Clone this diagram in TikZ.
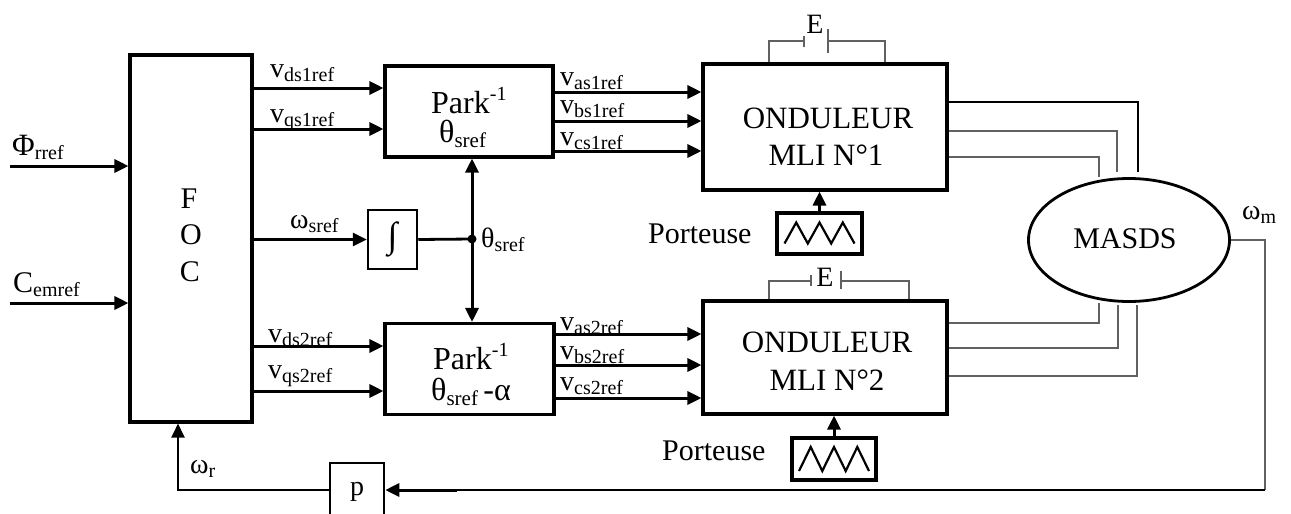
\documentclass[tikz,border=0pt]{standalone}
\usepackage{fontspec}
\setmainfont{Liberation Serif}
\usetikzlibrary{arrows.meta,shapes.geometric}
\newcommand\lsub[2]{#1\raisebox{-4pt}{\fontsize{20}{20}\selectfont #2}}
\newcommand\lsubb[2]{#1\raisebox{-5pt}{\fontsize{21}{21}\selectfont #2}}
\begin{document}
\begin{tikzpicture}[x=1pt,y=-1pt,
  box/.style={draw,line width=3.1pt,inner sep=0},
  arr/.style={line width=3pt,-{Triangle[length=14pt,width=13pt]}},
  darr/.style={line width=3pt,{Triangle[length=14pt,width=13pt]}-{Triangle[length=14pt,width=13pt]}},
  thinl/.style={line width=1.6pt,draw=black!62},
  lbl/.style={inner sep=0,font=\fontsize{28}{30}\selectfont},
  big/.style={inner sep=0,font=\fontsize{31}{37}\selectfont},
  wave/.style={line width=2.2pt,line join=miter}]
\useasboundingbox (0,0) rectangle (1291,514);

% blocks
\node[box,minimum width=122,minimum height=367] (foc) at (191,238.5) {};
\node[box,minimum width=168,minimum height=91] (park1) at (469,111.5) {};
\node[box,minimum width=169,minimum height=91] (park2) at (469.5,369) {};
\node[box,line width=2.5pt,minimum width=49,minimum height=59] (int) at (392.5,239.5) {};
\node[box,minimum width=244,minimum height=126] (ond1) at (825,127) {};
\node[box,minimum width=244,minimum height=113] (ond2) at (825,357.5) {};
\node[draw,ellipse,line width=2.8pt,minimum width=201,minimum height=123,inner sep=0] (masds) at (1129,240) {};
\node[box,minimum width=85,minimum height=41] (car1) at (819.5,233.5) {};
\node[box,minimum width=84,minimum height=42] (car2) at (834,459) {};
\node[box,line width=2.6pt,minimum width=54,minimum height=54] (p) at (357,490) {};

% block texts
\node[lbl,font=\fontsize{30}{30}\selectfont,anchor=base] (focF) at (189,208) {F};
\node[lbl,font=\fontsize{30}{30}\selectfont,anchor=base] (focO) at (191,244) {O};
\node[lbl,font=\fontsize{30}{30}\selectfont,anchor=base] (focC) at (190,281) {C};
\node[lbl,font=\fontsize{32}{32}\selectfont,anchor=base west] (p1a) at (431,113) {Park\raisebox{13pt}{\fontsize{20}{20}\selectfont -1}};
\node[lbl,font=\fontsize{32}{32}\selectfont,anchor=base west] (p1b) at (439,142) {\lsubb{θ}{sref}};
\node[lbl,font=\fontsize{32}{32}\selectfont,anchor=base west] (p2a) at (433,369) {Park\raisebox{13pt}{\fontsize{20}{20}\selectfont -1}};
\node[lbl,font=\fontsize{32}{32}\selectfont,anchor=base west] (p2b) at (431,400) {\lsubb{θ}{sref}\,-α};
\node[lbl,font=\fontsize{36}{36}\selectfont] (inttxt) at (392.5,239) {∫};
\node[big,anchor=base] (o1a) at (828,128) {ONDULEUR};
\node[big,anchor=base] (o1b) at (826,165) {MLI N°1};
\node[big,anchor=base] (o2a) at (827,352) {ONDULEUR};
\node[big,anchor=base] (o2b) at (827,390) {MLI N°2};
\node[lbl,font=\fontsize{30}{30}\selectfont,anchor=base] (mtxt) at (1125,248) {MASDS};
\node[lbl,anchor=base] (ptxt) at (357,495) {p};

% signal labels
\node[lbl,anchor=base west] (lphi) at (12,155) {\lsub{{\fontsize{31}{31}\selectfont Φ}}{rref}};
\node[lbl,anchor=base west] (lcem) at (13,292) {\lsub{{\fontsize{30}{30}\selectfont C}}{emref}};
\node[lbl,anchor=base west] (lvd1) at (270,77) {\lsub{v}{ds1ref}};
\node[lbl,anchor=base west] (lvq1) at (270,122) {\lsub{v}{qs1ref}};
\node[lbl,anchor=base west] (lws) at (290,228) {\lsub{ω}{sref}};
\node[lbl,anchor=base west] (lvd2) at (268,342) {\lsub{v}{ds2ref}};
\node[lbl,anchor=base west] (lvq2) at (268,378) {\lsub{v}{qs2ref}};
\node[lbl,anchor=base west] (lva1) at (560,85) {\lsub{v}{as1ref}};
\node[lbl,anchor=base west] (lvb1) at (560,113) {\lsub{v}{bs1ref}};
\node[lbl,anchor=base west] (lvc1) at (560,145) {\lsub{v}{cs1ref}};
\node[lbl,anchor=base west] (lva2) at (560,330) {\lsub{v}{as2ref}};
\node[lbl,anchor=base west] (lvb2) at (560,359) {\lsub{v}{bs2ref}};
\node[lbl,anchor=base west] (lvc2) at (560,390) {\lsub{v}{cs2ref}};
\node[lbl,anchor=base west] (lth) at (481,247) {\lsub{θ}{sref}};
\node[lbl,anchor=base west] (lwm) at (1242,219) {\lsub{ω}{m}};
\node[lbl,anchor=base west] (lwr) at (190,473) {\lsub{ω}{r}};
\node[lbl,anchor=base] (le1) at (815,33) {E};
\node[lbl,anchor=base] (le2) at (825,286) {E};
\node[lbl,font=\fontsize{30}{30}\selectfont,anchor=base west] (lp1) at (648,243) {Porteuse};
\node[lbl,font=\fontsize{30}{30}\selectfont,anchor=base west] (lp2) at (662,460) {Porteuse};

% inputs to FOC
\coordinate (phiin) at (10,166);
\coordinate (cemin) at (10,303);
\draw[arr] (phiin) -- (phiin -| foc.west);
\draw[arr] (cemin) -- (cemin -| foc.west);

% FOC to Park
\draw[arr] (foc.east |- 0,88) -- (park1.west |- 0,88);
\draw[arr] (foc.east |- 0,129) -- (park1.west |- 0,129);
\draw[arr] (foc.east |- 0,346) -- (park2.west |- 0,346);
\draw[arr] (foc.east |- 0,391) -- (park2.west |- 0,391);
\draw[arr] (foc.east |- int.west) -- (int.west);

% theta junction
\coordinate (jn) at (472,239);
\draw[line width=2.8pt] (int.east) -- (jn);
\draw[arr] (jn) -- (jn |- park1.south);
\draw[arr] (jn) -- (jn |- park2.north);
\fill (jn) circle (4.5);

% Park to onduleurs
\foreach \yy in {92,121,151} {\draw[arr] (park1.east |- 0,\yy) -- (ond1.west |- 0,\yy);}
\foreach \yy in {334,365,398} {\draw[arr] (park2.east |- 0,\yy) -- (ond2.west |- 0,\yy);}

% carriers
\draw[arr] (car1.north) -- (car1.north |- ond1.south);
\draw[arr] (car2.north) -- (car2.north |- ond2.south);
\begin{scope}[shift={(car1.center)}]
\draw[wave] (-35,10) -- (-23.3,-11) -- (-11.7,10) -- (0,-11) -- (11.7,10) -- (23.3,-11) -- (35,10);
\end{scope}
\begin{scope}[shift={(car2.center)}]
\draw[wave] (-35,12) -- (-23.3,-12) -- (-11.7,12) -- (0,-12) -- (11.7,12) -- (23.3,-12) -- (35,12);
\end{scope}

% DC sources E
\draw[thinl] (769,0 |- ond1.north) -- (769,41) -- (804,41);
\draw[thinl] (804,36) -- (804,47);
\draw[thinl] (828,29) -- (828,53);
\draw[thinl] (828,41) -- (885,41) -- (885,0 |- ond1.north);
\draw[thinl] (769,0 |- ond2.north) -- (769,281) -- (811,281);
\draw[thinl] (811,275) -- (811,286);
\draw[thinl] (841,271) -- (841,289);
\draw[thinl] (841,281) -- (909,281) -- (909,0 |- ond2.north);

% onduleurs to MASDS
\draw[thinl,draw=black] (ond1.east |- 0,102) -- (1138,102) -- (1138,172);
\draw[thinl] (ond1.east |- 0,131) -- (1117,131) -- (1117,172);
\draw[thinl] (ond1.east |- 0,157) -- (1099,157) -- (1099,177);
\draw[thinl] (ond2.east |- 0,323) -- (1099,323) -- (1099,303);
\draw[thinl] (ond2.east |- 0,348) -- (1118,348) -- (1118,305);
\draw[thinl] (ond2.east |- 0,376) -- (1137,376) -- (1137,305);

% feedback
\coordinate (wm) at (1265,240);
\coordinate (fb) at (1265,490);
\coordinate (fbk) at (457,490);
\coordinate (wrc) at (178,490);
\draw[thinl] (masds.east) -- (wm) -- (fb);
\draw[line width=2pt] (fb) -- (fbk);
\draw[arr] (fbk) -- (p.east);
\draw[line width=2.6pt,-{Triangle[length=14pt,width=13pt]}] (p.west) -- (wrc) -- (wrc |- foc.south);
\end{tikzpicture}
\end{document}
